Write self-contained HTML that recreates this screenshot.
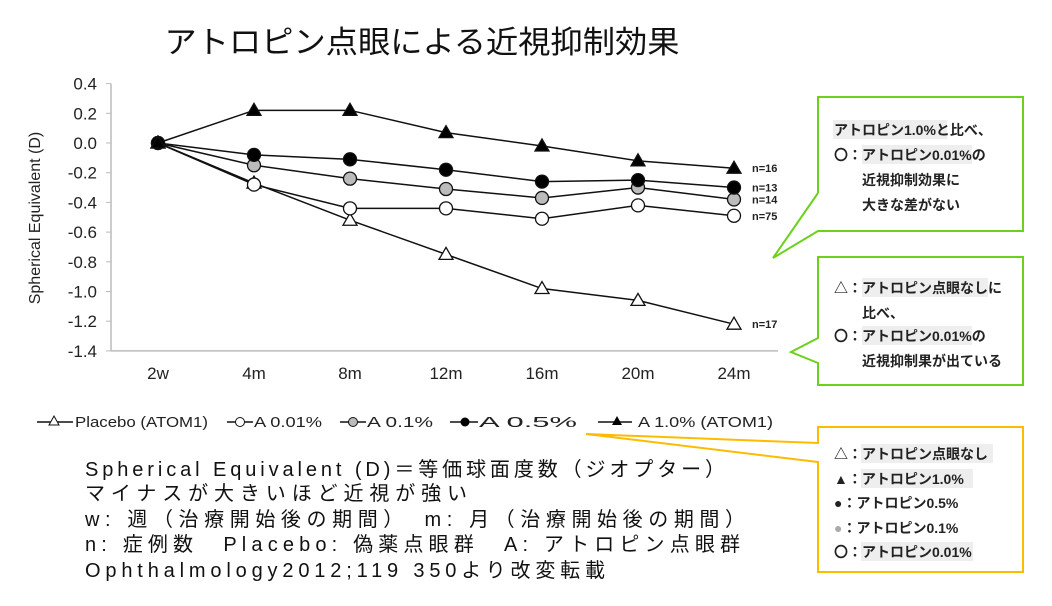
<!DOCTYPE html>
<html><head><meta charset="utf-8"><style>
body{margin:0;background:#fff;}
svg{display:block;font-family:"Liberation Sans","Noto Sans CJK JP",sans-serif;}
</style></head><body>
<svg id="chart" width="1052" height="606" viewBox="0 0 1052 606">
<text x="422" y="53" font-size="31" text-anchor="middle" textLength="515" lengthAdjust="spacingAndGlyphs" fill="#111">アトロピン点眼による近視抑制効果</text>
<g id="plot"></g>
<g font-size="15" fill="#222">
 <g><line x1="37" y1="422" x2="73" y2="422" stroke="#111" stroke-width="1.5"/><polygon points="54,416 59,425 49,425" fill="#fff" stroke="#111"/><text x="75" y="427" textLength="133" lengthAdjust="spacingAndGlyphs">Placebo (ATOM1)</text></g>
 <g><line x1="227" y1="422" x2="253" y2="422" stroke="#111" stroke-width="1.5"/><circle cx="240" cy="422" r="4.5" fill="#fff" stroke="#111"/><text x="254" y="427" textLength="68" lengthAdjust="spacingAndGlyphs">A 0.01%</text></g>
 <g><line x1="340" y1="422" x2="366" y2="422" stroke="#111" stroke-width="1.5"/><circle cx="353" cy="422" r="4.5" fill="#bbb" stroke="#111"/><text x="367" y="427" textLength="66" lengthAdjust="spacingAndGlyphs">A 0.1%</text></g>
 <g><line x1="450" y1="422" x2="478" y2="422" stroke="#111" stroke-width="1.5"/><circle cx="465" cy="422" r="4.5" fill="#000"/><text x="479" y="427" textLength="98" lengthAdjust="spacingAndGlyphs">A 0.5%</text></g>
 <g><line x1="598" y1="422" x2="632" y2="422" stroke="#111" stroke-width="1.5"/><polygon points="617,416 622,425 612,425" fill="#000"/><text x="638" y="427" textLength="135" lengthAdjust="spacingAndGlyphs">A 1.0% (ATOM1)</text></g>
</g>
<g font-size="20" fill="#111">
 <text x="85" y="476" textLength="640" lengthAdjust="spacing">Spherical Equivalent (D)＝等価球面度数（ジオプター）</text>
 <text x="85" y="500" textLength="382" lengthAdjust="spacing">マイナスが大きいほど近視が強い</text>
 <text x="85" y="526" textLength="660" lengthAdjust="spacing">w: 週（治療開始後の期間）　m: 月（治療開始後の期間）</text>
 <text x="85" y="551" textLength="655" lengthAdjust="spacing">n:  症例数　Placebo: 偽薬点眼群　A: アトロピン点眼群</text>
 <text x="85" y="577" textLength="520" lengthAdjust="spacing">Ophthalmology2012;119 350より改変転載</text>
</g>
<g>
 <path d="M818,193 L818,97 L1023,97 L1023,231 L818,231 L773,258 L818,193" fill="#fff" stroke="#6cd11a" stroke-width="2"/>
 <g font-size="14" font-weight="bold" fill="#222">
  <rect x="833" y="120" width="114" height="19" fill="#eee"/>
  <text x="834" y="135">アトロピン1.0%と比べ、</text>
  <rect x="862" y="145" width="110" height="19" fill="#eee"/>
  <text x="834" y="160">〇：アトロピン0.01%の</text>
  <text x="862" y="185">近視抑制効果に</text>
  <text x="862" y="210">大きな差がない</text>
 </g>
</g>
<g>
 <path d="M818,257 L1023,257 L1023,385 L818,385 L818,363 L791,352 L818,338 Z" fill="#fff" stroke="#6cd11a" stroke-width="2"/>
 <g font-size="14" font-weight="bold" fill="#222">
  <rect x="862" y="278" width="126" height="19" fill="#eee"/>
  <text x="834" y="293">△：アトロピン点眼なしに</text>
  <text x="862" y="318">比べ、</text>
  <rect x="862" y="326" width="110" height="19" fill="#eee"/>
  <text x="834" y="341">〇：アトロピン0.01%の</text>
  <text x="862" y="366">近視抑制果が出ている</text>
 </g>
</g>
<g>
 <path d="M818,427 L1023,427 L1023,572 L818,572 L818,462 L586,434 L818,443 Z" fill="#fff" stroke="#ffbb00" stroke-width="2"/>
 <g font-size="14" font-weight="bold" fill="#222">
  <rect x="861" y="444" width="132" height="19" fill="#eee"/><text x="834" y="459">△：アトロピン点眼なし</text>
  <rect x="861" y="469" width="112" height="19" fill="#eee"/><text x="834" y="484">▲：アトロピン1.0%</text>
  <text x="834" y="508">●：アトロピン0.5%</text>
  <text x="834" y="533"><tspan fill="#aaa">●</tspan>：アトロピン0.1%</text>
  <rect x="861" y="542" width="112" height="19" fill="#eee"/><text x="834" y="557">〇：アトロピン0.01%</text>
 </g>
</g>
</svg>
<script>
const categories=["2w","4m","8m","12m","16m","20m","24m"];
const yTicks=[0.4,0.2,0.0,-0.2,-0.4,-0.6,-0.8,-1.0,-1.2,-1.4];
const placebo=[0,-0.27,-0.52,-0.75,-0.98,-1.06,-1.22];
const a001=[0,-0.28,-0.44,-0.44,-0.51,-0.42,-0.49];
const a01=[0,-0.15,-0.24,-0.31,-0.37,-0.30,-0.38];
const a05=[0,-0.08,-0.11,-0.18,-0.26,-0.25,-0.30];
const a10=[0,0.22,0.22,0.07,-0.02,-0.12,-0.17];
const nLabels=["n=16","n=13","n=14","n=75","n=17"];
const NS="http://www.w3.org/2000/svg";
const g=document.getElementById("plot");
const X=i=>158+i*96;
const Y=v=>143-v*148.5;
function mk(t,a){const e=document.createElementNS(NS,t);for(const k in a)e.setAttribute(k,a[k]);g.appendChild(e);return e;}
let ax=mk("line",{x1:111,y1:Y(0.4),x2:111,y2:Y(-1.4),stroke:"#bbb","stroke-width":1.5});


let bx=mk("line",{x1:111,y1:Y(-1.4),x2:778,y2:Y(-1.4),stroke:"#bbb","stroke-width":1.5});


yTicks.forEach(v=>{
 mk("line",{x1:106,y1:Y(v),x2:111,y2:Y(v),stroke:"#bbb"});
 const t=mk("text",{x:97,y:Y(v)+6,"font-size":17,"text-anchor":"end",fill:"#222"});
 t.textContent=v.toFixed(1);
 
 
});
categories.forEach((c,i)=>{
 const t=mk("text",{x:X(i),y:379,"font-size":17,"text-anchor":"middle",fill:"#222"});
 t.textContent=c;
 
 
});
const yl=mk("text",{transform:"translate(40,218) rotate(-90)","font-size":16,"text-anchor":"middle",fill:"#222"});
yl.textContent="Spherical Equivalent (D)";


const series=[[placebo,"otri","placebo"],[a001,"#fff","a001"],[a01,"#bbb","a01"],[a05,"#000","a05"],[a10,"ftri","a10"]];
series.forEach(([d,m,name])=>{
 const p=mk("polyline",{points:d.map((v,i)=>X(i)+","+Y(v)).join(" "),fill:"none",stroke:"#111","stroke-width":1.5});
 
 
});
series.forEach(([d,m,name])=>{
 d.forEach((v,i)=>{
  let e;
  const x=X(i),y=Y(v);
  if(m==="otri"||m==="ftri") e=mk("polygon",{points:`${x},${y-7} ${x+7},${y+5} ${x-7},${y+5}`,fill:m==="ftri"?"#000":"#fff",stroke:"#111","stroke-width":1.3});
  else e=mk("circle",{cx:x,cy:y,r:6.5,fill:m,stroke:"#111","stroke-width":1.3});
  
  
 });
});
const nSeries=[a10,a05,a01,a001,placebo];
nSeries.forEach((d,k)=>{
 const t=mk("text",{x:752,y:Y(d[d.length-1])+4,"font-size":11,"font-weight":"bold",fill:"#222"});
 t.textContent=nLabels[k];
 
 
});
</script>
</body></html>
